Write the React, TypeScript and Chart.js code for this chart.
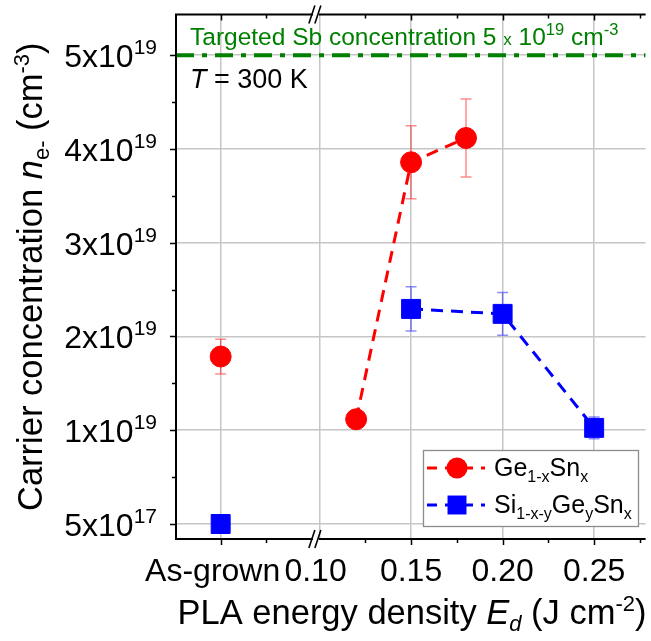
import React, { useEffect, useRef } from "react";
import { Chart, registerables } from "chart.js";

Chart.register(...registerables);

// ---------- data ----------
// The x axis is broken: "As-grown" sits on a conventional position left of the break.
const AS_GROWN_POS = 0.046;
const BREAK_POS = 0.098;
const X_MIN = 0.0216;
const X_MAX = 0.2781;
const Y_MIN = -0.16;
const Y_MAX = 5.435;

// y values are in units of 1e19 cm^-3; 0 on this broken axis stands for 5x10^17
const GE_X = [AS_GROWN_POS, 0.12, 0.15, 0.18];
const GE_Y = [1.786, 1.117, 3.858, 4.117];
const GE_ERR = [0.185, 0.05, 0.39, 0.415];

const SI_X = [AS_GROWN_POS, 0.15, 0.2, 0.25];
const SI_Y = [0, 2.294, 2.241, 1.025];
const SI_ERR = [0, 0.235, 0.228, 0.115];

const TARGET = 5;

const X_TICK_VALUES = [AS_GROWN_POS, 0.1, 0.15, 0.2, 0.25];
const X_TICK_LABELS = ["As-grown", "0.10", "0.15", "0.20", "0.25"];
const X_MINOR = [AS_GROWN_POS + 0.025, 0.125, 0.175, 0.225, 0.275];

const Y_TICK_VALUES = [0, 1, 2, 3, 4, 5];
const Y_TICK_MANTISSA = ["5", "1", "2", "3", "4", "5"];
const Y_TICK_EXPONENT = ["17", "19", "19", "19", "19", "19"];
const Y_MINOR = [0.5, 1.5, 2.5, 3.5, 4.5];

// ---------- styles ----------
const FONT = '"Liberation Sans", Arial, Helvetica, sans-serif';
const RED = "#ff0000";
const BLUE = "#0000ff";
const GREEN = "#008000";
const GRID = "#c6c6c6";
const X_LABEL_NUDGE = [-8, -4, 0, 0, 0];

type Seg = { t: string; size: number; italic?: boolean; dy?: number };

function segFont(s: Seg) {
  return `${s.italic ? "italic " : ""}${s.size}px ${FONT}`;
}
function richWidth(ctx: CanvasRenderingContext2D, segs: Seg[]) {
  let w = 0;
  for (const s of segs) {
    ctx.font = segFont(s);
    w += ctx.measureText(s.t).width;
  }
  return w;
}
function drawRich(
  ctx: CanvasRenderingContext2D,
  x: number,
  y: number,
  segs: Seg[],
  align: "left" | "center" | "right",
  color: string
) {
  const w = richWidth(ctx, segs);
  let cx = align === "left" ? x : align === "center" ? x - w / 2 : x - w;
  ctx.fillStyle = color;
  ctx.textAlign = "left";
  ctx.textBaseline = "alphabetic";
  for (const s of segs) {
    ctx.font = segFont(s);
    ctx.fillText(s.t, cx, y + (s.dy || 0));
    cx += ctx.measureText(s.t).width;
  }
}

function drawMarker(ctx: CanvasRenderingContext2D, style: string, x: number, y: number, r: number, color: string) {
  ctx.fillStyle = color;
  ctx.beginPath();
  if (style === "rect") {
    const s = Math.SQRT1_2 * r;
    ctx.rect(x - s, y - s, 2 * s, 2 * s);
  } else {
    ctx.arc(x, y, r, 0, Math.PI * 2);
  }
  ctx.fill();
}

const decorPlugin = {
  id: "decor",
  beforeDatasetsDraw(chart: any) {
    const ctx: CanvasRenderingContext2D = chart.ctx;
    const xs = chart.scales.x;
    const ys = chart.scales.y;
    const bars = [
      { x: GE_X, y: GE_Y, e: GE_ERR, c: "rgba(255,0,0,0.45)" },
      { x: SI_X, y: SI_Y, e: SI_ERR, c: "rgba(0,0,255,0.45)" },
    ];
    ctx.save();
    ctx.lineWidth = 1.5;
    for (const b of bars) {
      ctx.strokeStyle = b.c;
      b.x.forEach((xv, i) => {
        if (!b.e[i]) return;
        const px = xs.getPixelForValue(xv);
        const p1 = ys.getPixelForValue(b.y[i] + b.e[i]);
        const p2 = ys.getPixelForValue(b.y[i] - b.e[i]);
        ctx.beginPath();
        ctx.moveTo(px, p1);
        ctx.lineTo(px, p2);
        ctx.moveTo(px - 5.5, p1);
        ctx.lineTo(px + 5.5, p1);
        ctx.moveTo(px - 5.5, p2);
        ctx.lineTo(px + 5.5, p2);
        ctx.stroke();
      });
    }
    ctx.restore();
  },
  afterDraw(chart: any) {
    const ctx: CanvasRenderingContext2D = chart.ctx;
    const { left, right, top, bottom } = chart.chartArea;
    const xs = chart.scales.x;
    const ys = chart.scales.y;
    ctx.save();

    // axis lines
    ctx.strokeStyle = "#000";
    ctx.lineWidth = 2;
    ctx.beginPath();
    ctx.moveTo(left, top - 1);
    ctx.lineTo(left, bottom + 1);
    ctx.moveTo(left - 1, top);
    ctx.lineTo(right, top);
    ctx.moveTo(left - 1, bottom);
    ctx.lineTo(right, bottom);
    ctx.stroke();

    // ticks
    ctx.lineWidth = 1.5;
    ctx.beginPath();
    for (const v of Y_TICK_VALUES) {
      const py = Math.round(ys.getPixelForValue(v)) + 0.5;
      ctx.moveTo(left - 6, py);
      ctx.lineTo(left, py);
    }
    for (const v of Y_MINOR) {
      const py = Math.round(ys.getPixelForValue(v)) + 0.5;
      ctx.moveTo(left - 4, py);
      ctx.lineTo(left, py);
    }
    for (const v of X_TICK_VALUES) {
      if (Math.abs(v - 0.1) < 1e-9) continue;
      const px = Math.round(xs.getPixelForValue(v)) + 0.5;
      ctx.moveTo(px, bottom);
      ctx.lineTo(px, bottom + 6);
      ctx.moveTo(px, top);
      ctx.lineTo(px, top + 6);
    }
    for (const v of X_MINOR) {
      const px = Math.round(xs.getPixelForValue(v)) + 0.5;
      ctx.moveTo(px, bottom);
      ctx.lineTo(px, bottom + 4);
      ctx.moveTo(px, top);
      ctx.lineTo(px, top + 4);
    }
    ctx.stroke();

    // axis break marks
    const bx = xs.getPixelForValue(BREAK_POS);
    for (const y0 of [top, bottom]) {
      ctx.fillStyle = "#fff";
      ctx.fillRect(bx - 3, y0 - 1.5, 6, 3);
      ctx.strokeStyle = "#000";
      ctx.lineWidth = 1.6;
      ctx.beginPath();
      ctx.moveTo(bx - 7, y0 + 9);
      ctx.lineTo(bx - 1, y0 - 9);
      ctx.moveTo(bx - 1, y0 + 9);
      ctx.lineTo(bx + 5, y0 - 9);
      ctx.stroke();
    }

    // y tick labels
    Y_TICK_VALUES.forEach((v, i) => {
      const py = ys.getPixelForValue(v);
      drawRich(
        ctx,
        157,
        py + 12,
        [
          { t: `${Y_TICK_MANTISSA[i]}x10`, size: 32 },
          { t: Y_TICK_EXPONENT[i], size: 21, dy: -13 },
        ],
        "right",
        "#000"
      );
    });

    // x tick labels
    X_TICK_VALUES.forEach((v, i) => {
      const px = xs.getPixelForValue(v) + X_LABEL_NUDGE[i];
      drawRich(ctx, px, 581, [{ t: X_TICK_LABELS[i], size: 32 }], "center", "#000");
    });

    // x title
    drawRich(
      ctx,
      412,
      624,
      [
        { t: "PLA energy density ", size: 34.5 },
        { t: "E", size: 34.5, italic: true },
        { t: "d", size: 22, italic: true, dy: 7 },
        { t: " (J cm", size: 34.5 },
        { t: "-2", size: 22, dy: -13 },
        { t: ")", size: 34.5 },
      ],
      "center",
      "#000"
    );

    // y title
    ctx.save();
    ctx.translate(42, (top + bottom) / 2);
    ctx.rotate(-Math.PI / 2);
    drawRich(
      ctx,
      0,
      0,
      [
        { t: "Carrier concentration ", size: 34.5 },
        { t: "n", size: 34.5, italic: true },
        { t: "e-", size: 22, dy: 7 },
        { t: " (cm", size: 34.5 },
        { t: "-3", size: 22, dy: -13 },
        { t: ")", size: 34.5 },
      ],
      "center",
      "#000"
    );
    ctx.restore();

    // annotations
    drawRich(
      ctx,
      190,
      45,
      [
        { t: "Targeted Sb concentration 5 ", size: 24.5 },
        { t: "x", size: 17 },
        { t: " 10", size: 24.5 },
        { t: "19", size: 16.5, dy: -10 },
        { t: " cm", size: 24.5 },
        { t: "-3", size: 16.5, dy: -10 },
      ],
      "left",
      GREEN
    );
    drawRich(
      ctx,
      190,
      88,
      [
        { t: "T", size: 27, italic: true },
        { t: " = 300 K", size: 27 },
      ],
      "left",
      "#000"
    );

    // legend
    const lx = 423.5,
      ly = 450.5,
      lw = 215,
      lh = 76;
    ctx.fillStyle = "#fff";
    ctx.fillRect(lx, ly, lw, lh);
    ctx.strokeStyle = "#8c8c8c";
    ctx.lineWidth = 1.3;
    ctx.strokeRect(lx, ly, lw, lh);
    const items = [
      {
        ds: chart.data.datasets[1],
        y: 468,
        segs: [
          { t: "Ge", size: 25 },
          { t: "1-x", size: 16, dy: 6 },
          { t: "Sn", size: 25 },
          { t: "x", size: 16, dy: 6 },
        ],
      },
      {
        ds: chart.data.datasets[2],
        y: 505,
        segs: [
          { t: "Si", size: 25 },
          { t: "1-x-y", size: 16, dy: 6 },
          { t: "Ge", size: 25 },
          { t: "y", size: 16, dy: 6 },
          { t: "Sn", size: 25 },
          { t: "x", size: 16, dy: 6 },
        ],
      },
    ];
    for (const it of items) {
      ctx.strokeStyle = it.ds.borderColor;
      ctx.lineWidth = it.ds.borderWidth;
      ctx.setLineDash([10, 8]);
      ctx.beginPath();
      ctx.moveTo(427, it.y);
      ctx.lineTo(485, it.y);
      ctx.stroke();
      ctx.setLineDash([]);
      drawMarker(ctx, it.ds.pointStyle, 457, it.y, it.ds.pointRadius, it.ds.backgroundColor);
      drawRich(ctx, 494, it.y + 8, it.segs, "left", "#000");
    }

    ctx.restore();
  },
};

export default function App() {
  const ref = useRef<HTMLCanvasElement | null>(null);

  useEffect(() => {
    if (!ref.current) return;
    const skipFirst = (c: any) => (c.p0DataIndex === 0 ? "rgba(0,0,0,0)" : undefined);
    const chart = new Chart(ref.current, {
      type: "scatter",
      data: {
        datasets: [
          {
            label: "Target",
            data: [
              { x: X_MIN, y: TARGET },
              { x: X_MAX, y: TARGET },
            ],
            showLine: true,
            borderColor: GREEN,
            borderWidth: 4,
            borderDash: [18, 8, 5, 8],
            pointRadius: 0,
          } as any,
          {
            label: "Ge1-xSnx",
            data: GE_X.map((x, i) => ({ x, y: GE_Y[i] })),
            showLine: true,
            borderColor: RED,
            backgroundColor: RED,
            borderWidth: 3,
            borderDash: [12, 8],
            pointStyle: "circle",
            pointRadius: 10.5,
            pointBorderWidth: 1,
            segment: { borderColor: skipFirst },
          } as any,
          {
            label: "Si1-x-yGeySnx",
            data: SI_X.map((x, i) => ({ x, y: SI_Y[i] })),
            showLine: true,
            borderColor: BLUE,
            backgroundColor: BLUE,
            borderWidth: 3,
            borderDash: [12, 8],
            pointStyle: "rect",
            pointRadius: 13.4,
            pointBorderWidth: 1,
            segment: { borderColor: skipFirst },
          } as any,
        ],
      },
      options: {
        animation: false,
        responsive: false,
        events: [],
        layout: { padding: { left: 176, top: 12, right: 0, bottom: 102 } },
        plugins: { legend: { display: false }, tooltip: { enabled: false } },
        scales: {
          x: {
            type: "linear",
            min: X_MIN,
            max: X_MAX,
            afterBuildTicks: (s: any) => {
              s.ticks = X_TICK_VALUES.map((v) => ({ value: v }));
            },
            ticks: { display: false },
            grid: { color: GRID, lineWidth: 1.5, drawTicks: false },
            border: { display: false },
          },
          y: {
            type: "linear",
            min: Y_MIN,
            max: Y_MAX,
            afterBuildTicks: (s: any) => {
              s.ticks = Y_TICK_VALUES.map((v) => ({ value: v }));
            },
            ticks: { display: false },
            grid: { color: GRID, lineWidth: 1.5, drawTicks: false },
            border: { display: false },
          },
        },
      } as any,
      plugins: [decorPlugin],
    });
    return () => chart.destroy();
  }, []);

  return (
    <div style={{ position: "absolute", left: 0, top: 0, width: 651, height: 641, overflow: "hidden", background: "#fff" }}>
      <canvas ref={ref} width={660} height={641} style={{ display: "block" }} />
    </div>
  );
}
